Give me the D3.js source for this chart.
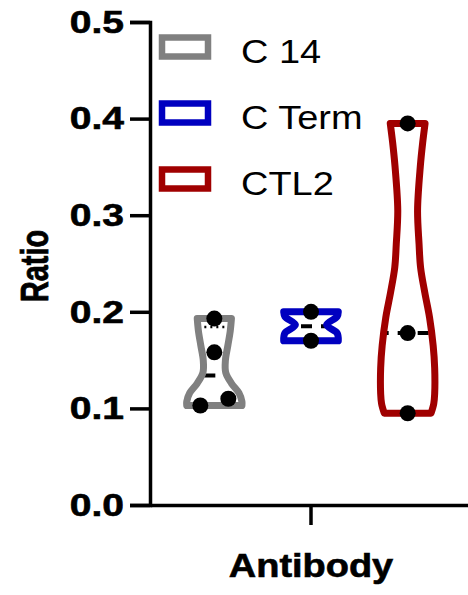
<!DOCTYPE html>
<html>
<head>
<meta charset="utf-8">
<style>
    body { margin: 0; background: white; }
    svg { display: block; font-family: 'Liberation Sans', Arial, sans-serif; }
</style>
</head>
<body>
<svg width="468" height="595"></svg>

<script src="https://d3js.org/d3.v7.min.js"></script>
<script>
    // values
    let groups = ["Antibody"];
    let series = ["C 14", "C Term", "CTL2"];
    let colors = ["#808080", "#0000c0", "#a00000"];

    let c14 = [0.193, 0.158, 0.110, 0.103];
    let cTerm = [0.200, 0.170];
    let ctl2 = [0.395, 0.178, 0.095];

    // violin outlines, [ratio, relative density], top to bottom
    let c14Shape = [[0.193, 0.57], [0.18, 0.53], [0.165, 0.45], [0.15, 0.37], [0.137, 0.38],
        [0.126, 0.57], [0.116, 0.82], [0.107, 0.92], [0.103, 0.92]];
    let cTermShape = [[0.200, 0.91], [0.195, 0.87], [0.1865, 0.52], [0.178, 0.87], [0.170, 0.91]];
    let ctl2Shape = [[0.395, 0.58], [0.375, 0.5], [0.35, 0.42], [0.305, 0.33], [0.27, 0.38],
        [0.246, 0.43], [0.22, 0.57], [0.194, 0.73], [0.165, 0.85], [0.142, 0.9],
        [0.115, 0.9], [0.105, 0.87], [0.095, 0.78]];

    let yTicks = [0, 0.1, 0.2, 0.3, 0.4, 0.5];

    let values = [c14, cTerm, ctl2];
    let shapes = [c14Shape, cTermShape, ctl2Shape];

    let stretch = 1.15; // the original text is a bit wide
    let svg = d3.select("svg");

    let y = d3.scaleLinear().domain([0, 0.5]).range([505, 22]);
    let x = d3.scaleBand().domain(groups).range([150, 472]);
    let xSub = d3.scaleBand().domain(series).range([-145, 145]);
    let w = d3.scaleLinear().domain([0, 1]).range([0, 30]);

    function cx(i) {
        return x(groups[0]) + x.bandwidth() / 2 + xSub(series[i]) + xSub.bandwidth() / 2;
    }

    // prism style percentile
    function quart(vals, p) {
        let s = vals.slice().sort(d3.ascending);
        let r = (s.length + 1) * p;
        if (r <= 1) return s[0];
        if (r >= s.length) return s[s.length - 1];
        let i = Math.floor(r), f = r - i;
        return s[i - 1] + f * (s[i] - s[i - 1]);
    }

    function violinPath(shape, c) {
        let right = d3.line().x(d => c + w(d[1])).y(d => y(d[0])).curve(d3.curveCatmullRom)(shape);
        let left = d3.line().x(d => c - w(d[1])).y(d => y(d[0])).curve(d3.curveCatmullRom)(shape.slice().reverse());
        return right + "L" + left.slice(1) + "Z";
    }

    // points that overlap in y get pushed sideways
    let r = 8, step = 28;
    function spreadX(vals) {
        let s = vals.slice().sort(d3.ascending);
        let out = [];
        let grp = [];
        s.forEach(v => {
            if (grp.length && Math.abs(y(v) - y(grp[grp.length - 1])) >= 2 * r) {
                out.push(grp);
                grp = [];
            }
            grp.push(v);
        });
        out.push(grp);
        let pts = [];
        out.forEach(g => g.forEach((v, i) => pts.push({ v: v, dx: (i - (g.length - 1) / 2) * step })));
        return pts;
    }

    // axes
    let yAxis = d3.axisLeft(y).tickValues(yTicks).tickFormat(d3.format(".1f")).tickSize(20).tickPadding(6);
    let gy = svg.append("g").attr("transform", "translate(150,0)").call(yAxis);

    let xAxis = d3.axisBottom(x).tickSize(20).tickSizeOuter(0).tickPadding(29);
    let gx = svg.append("g").attr("transform", "translate(0,505)").call(xAxis);

    [gy, gx].forEach(g => {
        g.selectAll("path, line").attr("stroke", "black").attr("stroke-width", 3.5);
        g.selectAll("text")
            .attr("fill", "black")
            .attr("stroke", "black")
            .attr("stroke-width", 0.6)
            .style("font-weight", "bold");
    });
    gy.selectAll("text")
        .style("font-size", "32px")
        .attr("x", -26 / 1.22)
        .attr("transform", "scale(1.22,1)");
    gx.selectAll("text").style("font-size", "33px").attr("transform", "scale(" + stretch + ",1)");

    svg.append("text")
        .attr("transform", "translate(48,266) scale(1.33,1) rotate(-90)")
        .attr("text-anchor", "middle")
        .attr("stroke", "black")
        .attr("stroke-width", 0.6)
        .style("font-size", "29px")
        .style("font-weight", "bold")
        .text("Ratio");

    // violins
    let defs = svg.append("defs");
    series.forEach((s, i) => {
        let c = cx(i);
        let d = violinPath(shapes[i], c);
        defs.append("clipPath").attr("id", "clip" + i).append("path").attr("d", d);

        let g = svg.append("g");
        let inside = g.append("g").attr("clip-path", "url(#clip" + i + ")");

        [0.25, 0.75].forEach(p => {
            inside.append("line")
                .attr("x1", c - 40).attr("x2", c + 40)
                .attr("y1", y(quart(values[i], p))).attr("y2", y(quart(values[i], p)))
                .attr("stroke", "black")
                .attr("stroke-width", 2.5)
                .attr("stroke-dasharray", "2,4");
        });
        inside.append("line")
            .attr("x1", c - w(1)).attr("x2", c + 40)
            .attr("y1", y(d3.median(values[i]))).attr("y2", y(d3.median(values[i])))
            .attr("stroke", "black")
            .attr("stroke-width", 4)
            .attr("stroke-dasharray", "11,9");

        g.append("path")
            .attr("d", d)
            .attr("fill", "none")
            .attr("stroke", colors[i])
            .attr("stroke-width", 7)
            .attr("stroke-linejoin", "round");

        g.selectAll("circle")
            .data(spreadX(values[i]))
            .join("circle")
            .attr("cx", p => c + p.dx)
            .attr("cy", p => y(p.v))
            .attr("r", r)
            .attr("fill", "black");
    });

    // legend
    let legend = svg.append("g");
    series.forEach((s, i) => {
        let cy = 47 + i * 66;
        legend.append("rect")
            .attr("x", 162).attr("y", cy - 9.5)
            .attr("width", 46).attr("height", 19)
            .attr("fill", "white")
            .attr("stroke", colors[i])
            .attr("stroke-width", 6.5);
        legend.append("text")
            .attr("transform", "translate(241," + (cy + 16) + ") scale(" + stretch + ",1)")
            .style("font-size", "33px")
            .text(s);
    });
</script>
</body>
</html>
